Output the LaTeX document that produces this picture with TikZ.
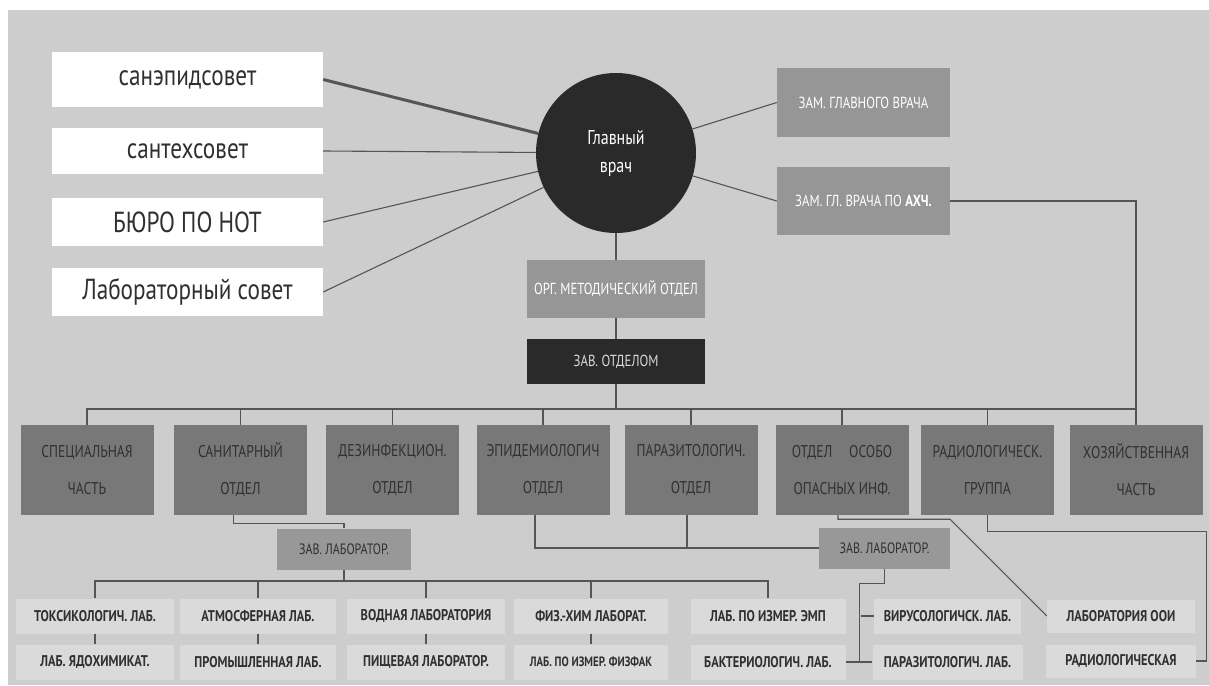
\documentclass[tikz,border=0pt]{standalone}
\usepackage{fontspec}
\setmainfont[FakeStretch=0.8]{PT Sans}
\usepackage{tikz}
\usetikzlibrary{positioning}
\definecolor{paper}{RGB}{205,205,205}
\definecolor{ink}{RGB}{48,48,48}
\definecolor{wirec}{RGB}{85,85,85}
\definecolor{chiefc}{RGB}{42,42,42}
\definecolor{deputyc}{RGB}{150,150,150}
\definecolor{deptc}{RGB}{120,120,120}
\definecolor{labheadc}{RGB}{152,152,152}
\definecolor{labc}{RGB}{218,218,218}
\newcommand{\setsize}[1]{\fontsize{#1}{#1}\selectfont}

\begin{document}
\begin{tikzpicture}[x=1pt,y=-1pt,on grid,
		wire/.style={draw=wirec,line width=1.1pt},
		council/.style={rectangle,fill=white,inner sep=0pt,minimum width=271pt,text=ink,font=\setsize{29}},
		deputy/.style={rectangle,fill=deputyc,inner sep=0pt,minimum width=173pt,text=white,font=\setsize{16}},
		dept/.style={rectangle,fill=deptc,inner sep=0pt,minimum width=133pt,minimum height=90pt,align=center,text=ink,font=\fontsize{17}{37}\selectfont},
		labhead/.style={rectangle,fill=labheadc,inner sep=0pt,minimum height=41pt,text=ink,font=\setsize{15}},
		lab/.style={rectangle,fill=labc,inner sep=0pt,minimum height=35pt,text=ink,font=\bfseries\setsize{15.5}}]
		\useasboundingbox (0,0) rectangle (1209,685);
		\fill[white] (0,0) rectangle (1209,685);
		\fill[paper] (8,10) rectangle (1209,685);
		
		\node[council,minimum height=55pt] (sanepid) at (187.5,79.5) {санэпидсовет};
		\node[council,minimum height=46pt] (santeh)  at (187.5,151)  {сантехсовет};
		\node[council,minimum height=48pt] (bnot)    at (187.5,222)  {БЮРО ПО НОТ};
		\node[council,minimum height=48pt] (labsov)  at (187.5,292)  {Лабораторный совет};
		
		\node[circle,fill=chiefc,minimum size=160pt,inner sep=0pt,align=center,text=white,
			font=\fontsize{20}{28}\selectfont] (chief) at (616,153) {Главный\\врач};
		
		\node[deputy,minimum height=69pt] (zam)     at (863.5,102.5)      {ЗАМ. ГЛАВНОГО ВРАЧА};
		\node[deputy,minimum height=68pt] (zamahch) [below=98.5pt of zam] {ЗАМ. ГЛ. ВРАЧА ПО \textbf{АХЧ.}};
		\node[deputy,minimum width=178pt,minimum height=58pt] (orgmet) at (616,289) {ОРГ. МЕТОДИЧЕСКИЙ ОТДЕЛ};
		\node[deputy,fill=chiefc,minimum width=178pt,minimum height=45pt,text=white!85!black]
			(zavotd) [below=72.5pt of orgmet] {ЗАВ. ОТДЕЛОМ};
		
		% departments
		\node[dept] (spec)   at (87,470)    {СПЕЦИАЛЬНАЯ\\ЧАСТЬ};
		\node[dept] (sanit)  at (240.5,470) {САНИТАРНЫЙ\\ОТДЕЛ};
		\node[dept] (dezinf) at (392.5,470) {ДЕЗИНФЕКЦИОН.\\ОТДЕЛ};
		\node[dept] (epid)   at (543,470)   {ЭПИДЕМИОЛОГИЧ\\ОТДЕЛ};
		\node[dept] (paraz)  at (691,470)   {ПАРАЗИТОЛОГИЧ.\\ОТДЕЛ};
		\node[dept] (ooi)    at (842,470)   {ОТДЕЛ\quad ОСОБО\\ОПАСНЫХ ИНФ.};
		\node[dept] (radio)  at (987.5,470) {РАДИОЛОГИЧЕСК.\\ГРУППА};
		\node[dept] (hoz)    at (1136,470)  {ХОЗЯЙСТВЕННАЯ\\ЧАСТЬ};
		
		\node[labhead,minimum width=134pt] (labheadA) at (344,549)   {ЗАВ. ЛАБОРАТОР.};
		\node[labhead,minimum width=131pt] (labheadB) at (884.5,548) {ЗАВ. ЛАБОРАТОР.};
		
		% laboratories
		\node[lab,minimum width=158pt] (tox)      at (95,616)  {ТОКСИКОЛОГИЧ. ЛАБ.};
		\node[lab,minimum width=156pt] (atm)      at (258,616) {АТМОСФЕРНАЯ ЛАБ.};
		\node[lab,minimum width=158pt] (water)    at (426,616) {ВОДНАЯ ЛАБОРАТОРИЯ};
		\node[lab,minimum width=154pt] (physchem) at (591,616) {ФИЗ.-ХИМ ЛАБОРАТ.};
		\node[lab,minimum width=155pt] (emp)      at (768,616) {ЛАБ. ПО ИЗМЕР. ЭМП};
		\node[lab,minimum width=158pt] (yad)      [below=46pt of tox]      {ЛАБ. ЯДОХИМИКАТ.};
		\node[lab,minimum width=156pt] (prom)     [below=46pt of atm]      {ПРОМЫШЛЕННАЯ ЛАБ.};
		\node[lab,minimum width=158pt] (food)     [below=46pt of water]    {ПИЩЕВАЯ ЛАБОРАТОР.};
		\node[lab,minimum width=154pt,font=\bfseries\setsize{13.5}] (fizfak) [below=46pt of physchem] {ЛАБ. ПО ИЗМЕР. ФИЗФАК};
		\node[lab,minimum width=155pt] (bact)     [below=46pt of emp]      {БАКТЕРИОЛОГИЧ. ЛАБ.};
		\node[lab,minimum width=147pt] (virus)    at (947.5,616) {ВИРУСОЛОГИЧСК. ЛАБ.};
		\node[lab,minimum width=150pt] (parlab)   [below=46pt of virus]    {ПАРАЗИТОЛОГИЧ. ЛАБ.};
		\node[lab,minimum width=148pt,minimum height=33pt] (labooi) at (1121,616) {ЛАБОРАТОРИЯ ООИ};
		\node[lab,minimum width=150pt,minimum height=33pt] (labrad) [below=45pt of labooi] {РАДИОЛОГИЧЕСКАЯ};
		
		\path[wire]
		(sanepid.east) edge[line width=3pt] (chief)
		(santeh.east) edge (chief)
		(bnot.east) edge (chief)
		(labsov.east) edge (chief)
		(chief) edge (zam.west)
		(chief) edge (zamahch.west)
		(chief) edge (orgmet)
		(orgmet) edge (zavotd);
		
		\coordinate (bus) at (616,409);
		\draw[wire] (zavotd) -- (bus);
		\foreach \d in {spec,sanit,dezinf,epid,paraz,ooi,radio}
			\draw[wire] (\d.north) |- (bus);
		\draw[wire] (zamahch.east) -| (hoz.north);
		\draw[wire] (bus) -- (bus -| hoz.north);
		
		\draw[wire] ([xshift=-7pt]sanit.south) -- ++(0,8) -| (labheadA.north);
		\coordinate (busA) at (344,581);
		\draw[wire] (labheadA) -- (busA);
		\foreach \l in {tox,atm,water,physchem,emp}
			\draw[wire] (\l.north) |- (busA);
		\foreach \l/\m in {tox/yad,atm/prom,water/food,physchem/fizfak}
			\draw[wire] (\l) -- (\m);
		
		\draw[wire] ([xshift=-8pt]epid.south) |- (labheadB.west);
		\draw[wire] ([xshift=-4pt]paraz.south) -- ++(0,33);
		\draw[wire] (labheadB.south) -- ++(0,15) -| ([xshift=-13pt]parlab.west) -- (parlab.west);
		\draw[wire] (virus.west) -- ++(-13,0);
		\draw[wire] (bact.east) -- (parlab.west);
		
		\draw[wire] ([xshift=-4pt]ooi.south) -- ++(0,4) -- ++(112,0) -- (labooi.west);
		\draw[wire] (radio.south) -- ++(0,16) -| ([xshift=10pt]labrad.east) -- (labrad.east);
\end{tikzpicture}
\end{document}
